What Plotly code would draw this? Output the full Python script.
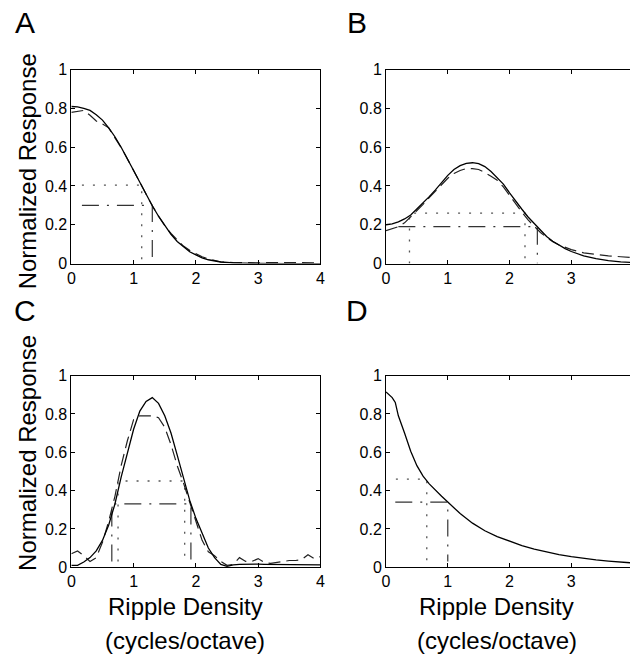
import plotly.graph_objects as go
from plotly.subplots import make_subplots

# ---------------- data ----------------
A_x = [0, 0.1, 0.2, 0.3, 0.4, 0.5, 0.6, 0.7, 0.8, 0.9, 1.0, 1.1, 1.2, 1.3, 1.4, 1.5,
       1.6, 1.7, 1.8, 1.9, 2.0, 2.1, 2.2, 2.3, 2.4, 2.6, 2.8, 3.0, 3.5, 4.0]
A_solid = [0.81, 0.808, 0.80, 0.79, 0.768, 0.74, 0.70, 0.654, 0.60, 0.543, 0.48, 0.419,
           0.357, 0.298, 0.244, 0.194, 0.151, 0.114, 0.085, 0.061, 0.045, 0.029, 0.0195,
           0.013, 0.008, 0.003, 0.001, 0.0005, 0.0, 0.0]
A_dashed = [0.78, 0.787, 0.79, 0.765, 0.735, 0.72, 0.70, 0.648, 0.598, 0.54, 0.478, 0.418,
            0.356, 0.298, 0.244, 0.196, 0.155, 0.12, 0.09, 0.068, 0.05, 0.035, 0.024,
            0.014, 0.008, 0.005, 0.006, 0.004, 0.005, 0.004]

B_x = [0, 0.1, 0.2, 0.3, 0.4, 0.5, 0.6, 0.7, 0.8, 0.9, 1.0, 1.1, 1.2, 1.3, 1.4, 1.5,
       1.6, 1.7, 1.8, 1.9, 2.0, 2.1, 2.2, 2.3, 2.4, 2.5, 2.6, 2.7, 2.8, 2.9, 3.0,
       3.2, 3.4, 3.6, 3.8, 4.0]
B_solid = [0.20, 0.205, 0.215, 0.23, 0.25, 0.28, 0.31, 0.345, 0.38, 0.42, 0.455, 0.485,
           0.505, 0.517, 0.52, 0.515, 0.50, 0.475, 0.445, 0.41, 0.365, 0.32, 0.28, 0.24,
           0.205, 0.17, 0.14, 0.115, 0.095, 0.077, 0.062, 0.04, 0.025, 0.015, 0.009, 0.005]
B_dashed = [0.17, 0.18, 0.19, 0.21, 0.24, 0.27, 0.305, 0.34, 0.375, 0.41, 0.44, 0.465,
            0.48, 0.49, 0.49, 0.485, 0.47, 0.45, 0.43, 0.395, 0.35, 0.305, 0.265, 0.225,
            0.19, 0.16, 0.135, 0.112, 0.096, 0.083, 0.072, 0.055, 0.046, 0.04, 0.035, 0.03]

C_x = [0, 0.1, 0.2, 0.3, 0.4, 0.5, 0.6, 0.7, 0.8, 0.9, 1.0, 1.1, 1.2, 1.3, 1.4, 1.5,
       1.6, 1.7, 1.8, 1.9, 2.0, 2.1, 2.2, 2.3, 2.4, 2.5, 2.6, 2.7, 2.8, 2.9, 3.0,
       3.1, 3.2, 3.3, 3.4, 3.5, 3.6, 3.7, 3.8, 3.9, 4.0]
C_solid = [0.01, 0.01, 0.027, 0.05, 0.085, 0.14, 0.22, 0.33, 0.47, 0.60, 0.72, 0.815,
           0.865, 0.885, 0.855, 0.79, 0.70, 0.585, 0.465, 0.35, 0.255, 0.175, 0.10,
           0.05, 0.015, 0.005, 0.012, 0.015, 0.016, 0.016, 0.016, 0.015, 0.015, 0.014,
           0.014, 0.013, 0.013, 0.012, 0.012, 0.012, 0.012]
C_dashed = [0.07, 0.085, 0.06, 0.03, 0.05, 0.13, 0.24, 0.37, 0.53, 0.66, 0.77, 0.79,
            0.79, 0.79, 0.78, 0.73, 0.64, 0.53, 0.44, 0.34, 0.24, 0.14, 0.08, 0.06,
            0.03, 0.01, 0.015, 0.05, 0.03, 0.03, 0.045, 0.025, 0.02, 0.025, 0.03,
            0.035, 0.035, 0.04, 0.065, 0.045, 0.055]

D_x = [0, 0.1, 0.15, 0.2, 0.3, 0.4, 0.5, 0.6, 0.7, 0.8, 0.9, 1.0, 1.2, 1.4, 1.6, 1.8,
       2.0, 2.2, 2.4, 2.6, 2.8, 3.0, 3.2, 3.4, 3.6, 3.8, 4.0]
D_solid = [0.915, 0.885, 0.86, 0.79, 0.70, 0.605, 0.53, 0.475, 0.435, 0.40, 0.37, 0.34,
           0.28, 0.23, 0.19, 0.16, 0.135, 0.113, 0.095, 0.08, 0.066, 0.055, 0.046,
           0.038, 0.032, 0.027, 0.022]

# reference (width) markers: dotted and dash-dot
A_dot_x, A_dot_y = [0.17, 1.13, 1.13], [0.405, 0.405, 0.0]
A_dd_x, A_dd_y = [0.17, 1.3, 1.3], [0.30, 0.30, 0.0]
B_dot_x, B_dot_y = [0.38, 0.38, 2.25, 2.25], [0.0, 0.26, 0.26, 0.0]
B_dd_x, B_dd_y = [0.2, 2.45, 2.45], [0.19, 0.19, 0.0]
C_dot_x, C_dot_y = [0.75, 0.75, 1.82, 1.82], [0.03, 0.45, 0.45, 0.03]
C_dd_x, C_dd_y = [0.65, 0.65, 1.92, 1.92], [0.03, 0.33, 0.33, 0.03]
D_dot_x, D_dot_y = [0.16, 0.66, 0.66], [0.46, 0.46, 0.03]
D_dd_x, D_dd_y = [0.15, 1.0, 1.0], [0.34, 0.34, 0.03]

panel_letters = ["A", "B", "C", "D"]
y_title = "Normalized Response"
x_title_1 = "Ripple Density"
x_title_2 = "(cycles/octave)"
x_ticks = [0, 1, 2, 3, 4]
y_ticks = [0, 0.2, 0.4, 0.6, 0.8, 1]

# ---------------- figure ----------------
W, H = 635, 660
FONT = "Liberation Sans, Arial, Helvetica, sans-serif"

fig = make_subplots(rows=2, cols=2)

SOLID = dict(color="black", width=1.3)
DASHED = dict(color="#222", width=1.2, dash="12px,6px")
DOTTED = dict(color="#555", width=1.3, dash="2px,9px")
DASHDOT = dict(color="#333", width=1.2, dash="17px,8px,2px,8px")


def add(x, y, line, r, c):
    fig.add_trace(go.Scatter(x=x, y=y, mode="lines", line=line, showlegend=False,
                             hoverinfo="skip"), row=r, col=c)


add(A_dot_x, A_dot_y, DOTTED, 1, 1)
add(A_dd_x, A_dd_y, DASHDOT, 1, 1)
add(A_x, A_dashed, DASHED, 1, 1)
add(A_x, A_solid, SOLID, 1, 1)

add(B_dot_x, B_dot_y, DOTTED, 1, 2)
add(B_dd_x, B_dd_y, DASHDOT, 1, 2)
add(B_x, B_dashed, DASHED, 1, 2)
add(B_x, B_solid, SOLID, 1, 2)

add(C_dot_x, C_dot_y, DOTTED, 2, 1)
add(C_dd_x, C_dd_y, DASHDOT, 2, 1)
add(C_x, C_dashed, DASHED, 2, 1)
add(C_x, C_solid, SOLID, 2, 1)

add(D_dot_x, D_dot_y, DOTTED, 2, 2)
add(D_dd_x, D_dd_y, DASHDOT, 2, 2)
add(D_x, D_solid, SOLID, 2, 2)

# pixel-based domains
col_dom = {1: [68.3 / W, 321.0 / W], 2: [387.5 / W, 1.0]}
row_dom = {1: [1 - 262.3 / H, 1 - 63.3 / H], 2: [1 - 574.0 / H, 1 - 377.3 / H]}
x_range = {1: [0, 4], 2: [0, 3.95]}

axis_common = dict(showgrid=False, zeroline=False, showline=True, linecolor="black",
                   linewidth=1, ticks="inside", ticklen=4, tickcolor="black",
                   tickfont=dict(family=FONT, size=16, color="black"))

for r in (1, 2):
    for c in (1, 2):
        fig.update_xaxes(domain=col_dom[c], range=x_range[c], tickvals=x_ticks,
                         mirror="ticks", row=r, col=c, **axis_common)
        fig.update_yaxes(domain=row_dom[r], range=[0, 1], tickvals=y_ticks,
                         mirror=("ticks" if c == 1 else False), row=r, col=c,
                         **axis_common)

ann = []
letter_pos = [(21, 15), (358, 15), (21, 310), (358, 310)]
for t, (px, py) in zip(panel_letters, letter_pos):
    ann.append(dict(text=t, x=px / W, y=1 - py / H, xref="paper", yref="paper",
                    showarrow=False, xanchor="center", yanchor="middle",
                    font=dict(family=FONT, size=30, color="black")))

for cy in (168, 457):
    ann.append(dict(text=y_title, x=24 / W, y=1 - cy / H, xref="paper", yref="paper",
                    showarrow=False, textangle=-90, xanchor="center", yanchor="middle",
                    font=dict(family=FONT, size=24, color="black")))

for cx in (184, 500):
    ann.append(dict(text=x_title_1, x=cx / W, y=1 - 614 / H, xref="paper", yref="paper",
                    showarrow=False, xanchor="center", yanchor="middle",
                    font=dict(family=FONT, size=24, color="black")))
    ann.append(dict(text=x_title_2, x=cx / W, y=1 - 649 / H, xref="paper", yref="paper",
                    showarrow=False, xanchor="center", yanchor="middle",
                    font=dict(family=FONT, size=24, color="black")))

fig.update_layout(width=W, height=H, margin=dict(l=0, r=0, t=0, b=0),
                  paper_bgcolor="white", plot_bgcolor="white", annotations=ann,
                  showlegend=False)

fig.write_html("out.html",
               config={"displayModeBar": False, "staticPlot": True},
               post_script="document.body.style.margin='0';"
                           "document.body.style.padding='0';"
                           "document.body.style.overflow='hidden';"
                           "document.documentElement.style.overflow='hidden';")
